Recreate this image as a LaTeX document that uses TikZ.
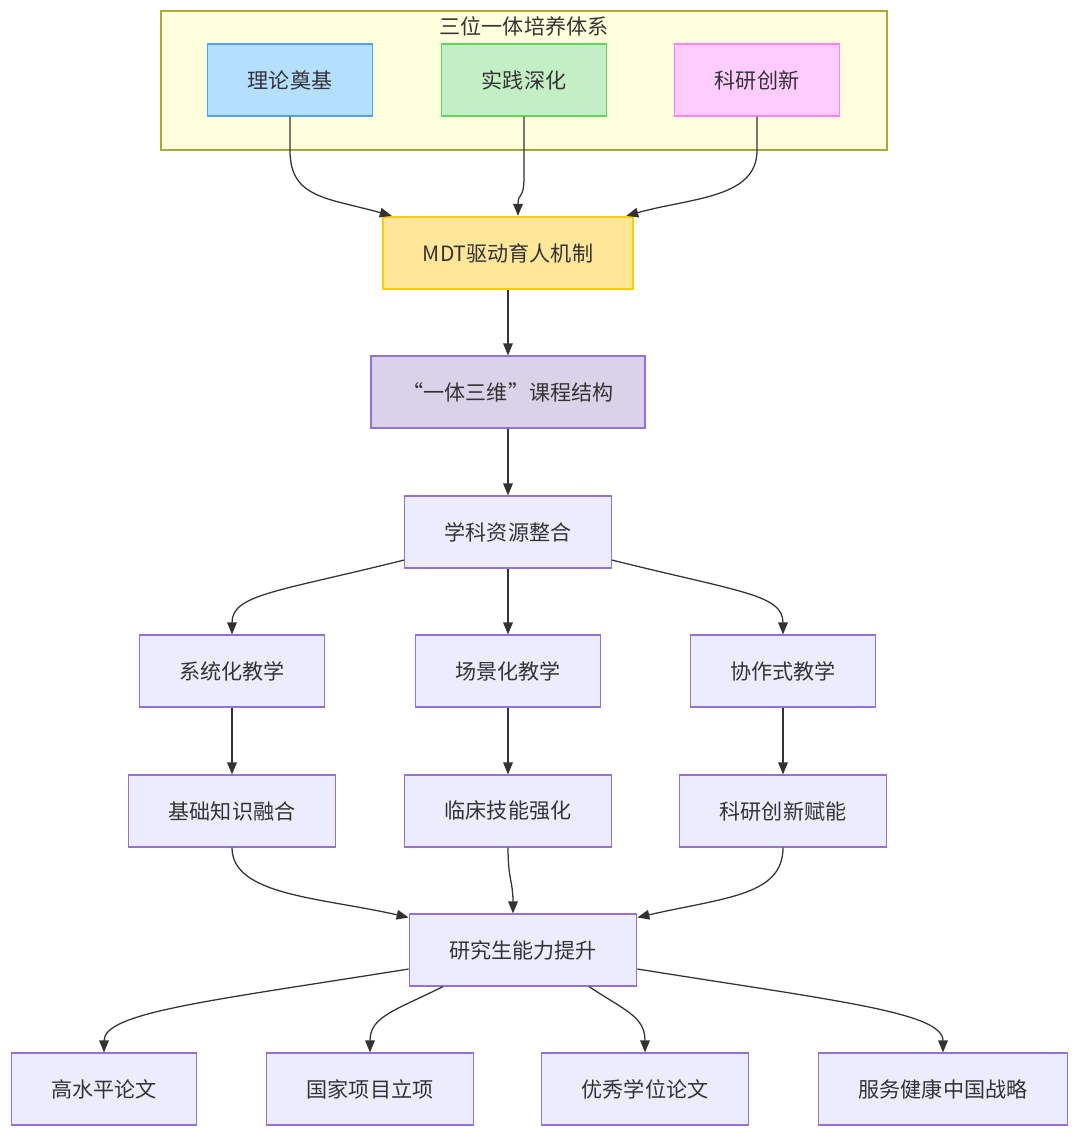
\documentclass[tikz,border=0pt]{standalone}
\usepackage{fontspec}
\usepackage{tikz}
\usetikzlibrary{arrows.meta}
\newfontfamily\cjk{Noto Sans CJK SC}
\definecolor{txt}{HTML}{333333}
\definecolor{mfill}{HTML}{ECECFF}
\definecolor{mline}{HTML}{9370DB}
\definecolor{cfill}{HTML}{FFFFDE}
\definecolor{cline}{HTML}{AAAA33}
\definecolor{bfill}{HTML}{B5DFFF}
\definecolor{bline}{HTML}{4DA3FF}
\definecolor{gfill}{HTML}{C4EFC4}
\definecolor{gline}{HTML}{5CD65C}
\definecolor{pfill}{HTML}{FFCCFF}
\definecolor{pline}{HTML}{FF80FF}
\definecolor{yfill}{HTML}{FFE699}
\definecolor{yline}{HTML}{FFCC00}
\definecolor{kfill}{HTML}{D9D2E9}
\tikzset{
  box/.style = {draw = mline, fill = mfill, line width = 0.8pt, text = txt,
    font = \cjk\fontsize{15}{18}\selectfont, inner xsep = 1cm,
    minimum height = 1.8cm, inner ysep = 0},
  arr/.style = {draw = txt, line width = 0.9pt, -{Triangle[length = 3mm, width = 2.4mm]}}
}

\begin{document}
\begin{tikzpicture}
    \useasboundingbox (0, 0) rectangle (27, -28.4);

    % cluster
    \draw [fill = cfill, draw = cline, line width = 0.9pt] (4.025, -0.275) rectangle (22.175, -3.75);
    \node [text = txt, font = \cjk\fontsize{15}{18}\selectfont] (title) at (13.1, -0.65) {三位一体培养体系};

    \node [box, fill = bfill, draw = bline] (ll) at (7.25, -2.0) {理论奠基};
    \node [box, fill = gfill, draw = gline] (sj) at (13.1, -2.0) {实践深化};
    \node [box, fill = pfill, draw = pline] (ky) at (18.925, -2.0) {科研创新};

    \node [box, fill = yfill, draw = yline, line width = 1.6pt] (mdt) at (12.7, -6.325) {MDT驱动育人机制};
    \node [box, fill = kfill, inner xsep = 0.79cm] (kc) at (12.7, -9.8) {“一体三维”课程结构};
    \node [box] (zy) at (12.7, -13.3) {学科资源整合};

    \node [box] (xt) at (5.8, -16.775) {系统化教学};
    \node [box] (cj) at (12.7, -16.775) {场景化教学};
    \node [box] (xz) at (19.575, -16.775) {协作式教学};

    \node [box] (jc) at (5.8, -20.275) {基础知识融合};
    \node [box] (lc) at (12.7, -20.275) {临床技能强化};
    \node [box] (kyfn) at (19.575, -20.275) {科研创新赋能};

    \node [box] (nl) at (13.075, -23.75) {研究生能力提升};

    \node [box] (gsp) at (2.6, -27.225) {高水平论文};
    \node [box] (gj) at (9.25, -27.225) {国家项目立项};
    \node [box] (yx) at (16.125, -27.225) {优秀学位论文};
    \node [box] (fw) at (23.575, -27.225) {服务健康中国战略};

    % edges into MDT
    \draw [arr] (ll.south) -- ++(0, -0.85) .. controls +(0, -1.2) and +(-1.6, 0.45) .. ([xshift = 0.25cm]mdt.north west);
    \draw [arr] (sj.south) -- ++(0, -1.5) .. controls +(0, -0.6) and +(0, 0.6) .. ([xshift = 0.25cm]mdt.north);
    \draw [arr] (ky.south) -- ++(0, -0.85) .. controls +(0, -1.2) and +(1.6, 0.45) .. ([xshift = -0.2cm]mdt.north east);

    \draw [arr] (mdt) -- (kc);
    \draw [arr] (kc) -- (zy);

    % spread
    \draw [arr] ([yshift = -0.7cm]zy.west) .. controls +(-3.2, -0.8) and +(0, 1.0) .. (xt.north);
    \draw [arr] (zy) -- (cj);
    \draw [arr] ([yshift = -0.7cm]zy.east) .. controls +(3.2, -0.8) and +(0, 1.0) .. (xz.north);

    \draw [arr] (xt) -- (jc);
    \draw [arr] (cj) -- (lc);
    \draw [arr] (xz) -- (kyfn);

    % gather
    \draw [arr] (jc.south) .. controls +(0, -1.2) and +(-2.2, 0.5) .. ([yshift = -0.1cm]nl.north west);
    \draw [arr] (lc.south) .. controls +(0, -0.8) and +(0, 0.8) .. ([xshift = -0.25cm]nl.north);
    \draw [arr] (kyfn.south) .. controls +(0, -1.2) and +(2.2, 0.5) .. ([yshift = -0.1cm]nl.north east);

    % outcomes
    \draw [arr] ([yshift = -0.475cm]nl.west) .. controls +(-5, -0.8) and +(0, 1.0) .. (gsp.north);
    \draw [arr] ([xshift = -2cm]nl.south) .. controls +(-1.2, -0.6) and +(0, 0.9) .. (gj.north);
    \draw [arr] ([xshift = 1.65cm]nl.south) .. controls +(0.9, -0.6) and +(0, 0.9) .. (yx.north);
    \draw [arr] ([yshift = -0.475cm]nl.east) .. controls +(5, -0.8) and +(0, 1.0) .. (fw.north);
\end{tikzpicture}
\end{document}
